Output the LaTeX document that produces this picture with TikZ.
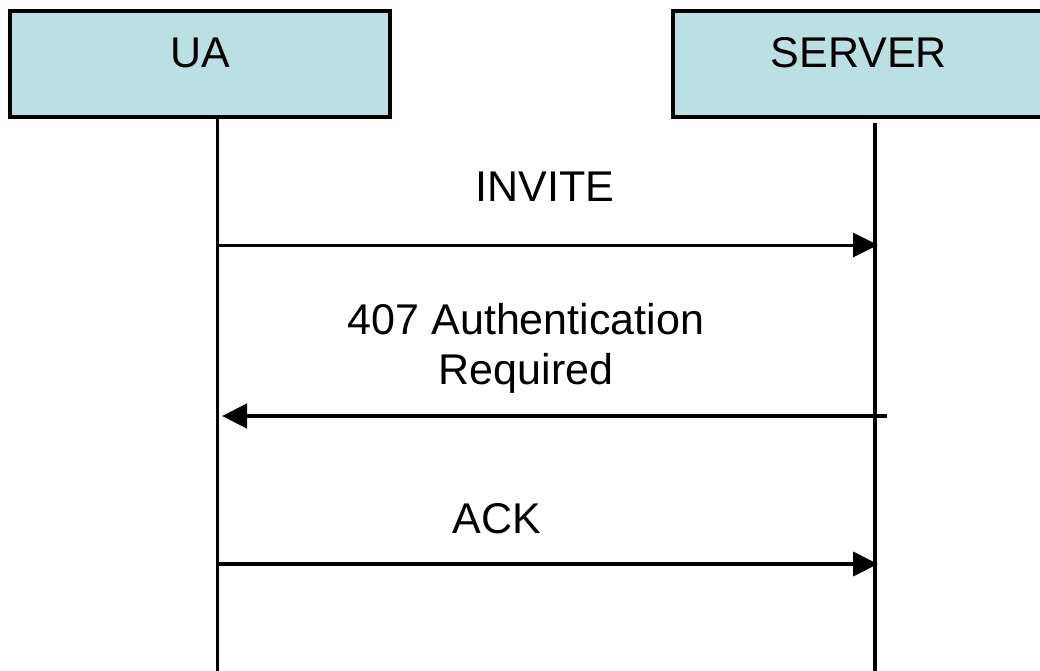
\documentclass[tikz,border=0pt]{standalone}
\usepackage{fontspec}
\setmainfont{Liberation Sans}
\usetikzlibrary{arrows.meta}
\definecolor{boxfill}{HTML}{BBE0E3}

\tikzstyle{actor} = [rectangle,draw,line width=3.5pt,fill=boxfill,minimum width=380pt,minimum height=106pt,text height=31pt,text depth=23pt,font=\fontsize{43}{50}\selectfont]
\tikzstyle{msglabel} = [font=\fontsize{43}{50}\selectfont,align=center]
\tikzstyle{msg} = [-{Triangle[length=25pt,width=24pt]}]

\begin{document}
\begin{tikzpicture}[x=1pt,y=-1pt]
		\useasboundingbox (0,0) rectangle (1040,671);
		\node[actor] (ua) at (200,64) {UA};
		\node[actor,minimum width=372pt] (server) at (859,64) {SERVER};
		\coordinate (ua0) at (217,117);
		\coordinate (ua9) at (217,671);
		\coordinate (sv0) at (875,123);
		\coordinate (sv9) at (875,671);
		\draw[line width=3pt] (ua0) -- (ua9);
		\draw[line width=4.5pt] (sv0) -- (sv9);
		\coordinate (ua1) at (217,245);
		\coordinate (sv1) at (878,245);
		\coordinate (sv2) at (887,416);
		\coordinate (ua2) at (222,416);
		\coordinate (ua3) at (217,564);
		\coordinate (sv3) at (878,564);
		\draw[msg,line width=3pt] (ua1) -- (sv1);
		\draw[msg,line width=4.5pt] (sv2) -- (ua2);
		\draw[msg,line width=4pt] (ua3) -- (sv3);
		\node[msglabel] (invite) at (545,187) {INVITE};
		\node[msglabel] (auth) at (526,348) {407 Authentication\\Required};
		\node[msglabel] (ack) at (497,519) {ACK};
		\end{tikzpicture}
\end{document}
